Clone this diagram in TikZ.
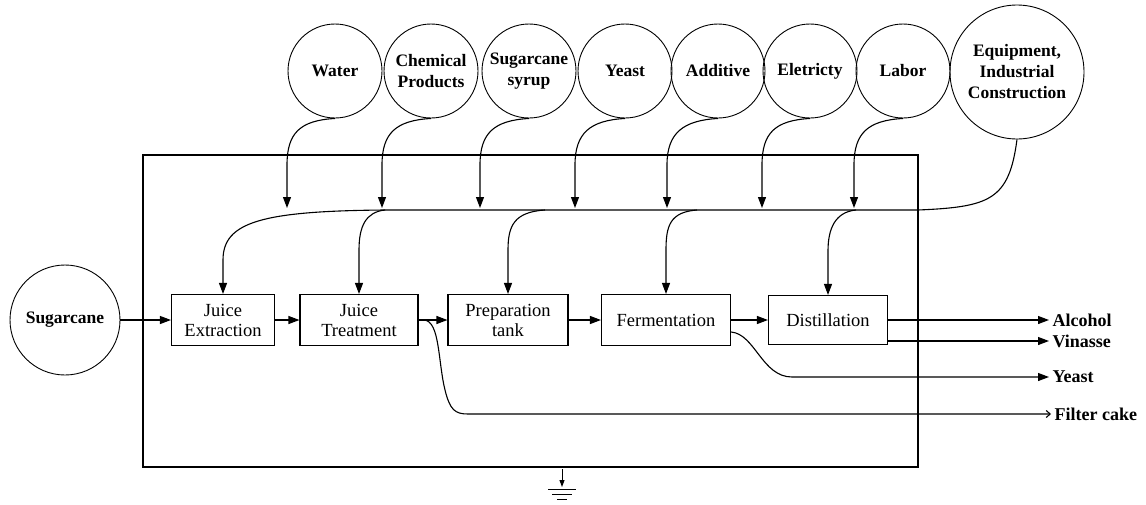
\documentclass[tikz,border=0pt]{standalone}
\usepackage{fontspec}
\setmainfont{Liberation Serif}
\usetikzlibrary{arrows.meta,calc}
\tikzset{
  res/.style={draw, circle, line width=0.9pt, minimum size=94pt, inner sep=0pt, align=center,
    font=\fontsize{17.5}{21}\selectfont\bfseries},
  proc/.style={draw, rectangle, line width=1.1pt, minimum height=51pt, inner sep=0pt, align=center,
    font=\fontsize{18.5}{20}\selectfont},
  outl/.style={anchor=west, inner sep=3pt, font=\fontsize{18}{20}\selectfont\bfseries},
  arr/.style={-{Triangle[length=11pt,width=8pt]}},
  fcarr/.style={-{Straight Barb[length=4pt,width=7pt]}},
  garr/.style={-{Triangle[length=7pt,width=5pt]}}
}
\begin{document}
\begin{tikzpicture}[x=1pt,y=-1pt,line width=1.1pt]
\useasboundingbox (0,0) rectangle (1146,504);
% resources
\node[res] (water) at (335,71) {Water};
\node[res] (chem) at (431,71) {Chemical\\Products};
\node[res] (syrup) at (529,71) {Sugarcane\\syrup};
\node[res] (yeastin) at (625,71) {Yeast};
\node[res] (add) at (718,71) {Additive};
\node[res] (elec) at (810,71) {Eletricty};
\node[res] (labor) at (903,71) {Labor};
\node[res, minimum size=134pt] (equip) at (1017,72) {Equipment,\\Industrial\\Construction};
\node[res, minimum size=110pt] (cane) at (65,320) {Sugarcane};
% system boundary
\draw (143,155) rectangle (918,467);
% processes
\node[proc, minimum width=103pt] (je) at (223,320) {Juice\\Extraction};
\node[proc, minimum width=118pt] (jt) at (359,320) {Juice\\Treatment};
\node[proc, minimum width=120pt] (pt) at (508,320) {Preparation\\tank};
\node[proc, minimum width=129pt] (fe) at (666,320) {Fermentation};
\node[proc, minimum width=119pt, minimum height=49pt] (di) at (828,320) {Distillation};
% chain
\draw[arr] (cane.east) -- (je.west);
\draw[arr] (je.east) -- (jt.west);
\draw[arr] (jt.east) -- (pt.west);
\draw[arr] (pt.east) -- (fe.west);
\draw[arr] (fe.east) -- (di.west);
% input drops onto the manifold
\coordinate (w1) at (287,165); \coordinate (w2) at (287,208);
\coordinate (c1) at (382,165); \coordinate (c2) at (382,208);
\coordinate (s1) at (480,165); \coordinate (s2) at (480,208);
\coordinate (y1) at (575,165); \coordinate (y2) at (575,208);
\coordinate (a1) at (667,165); \coordinate (a2) at (667,208);
\coordinate (e1) at (762,165); \coordinate (e2) at (762,208);
\coordinate (l1) at (854,165); \coordinate (l2) at (854,208);
\draw[arr] (water.south) .. controls +(-35,2) and +(0,-32) .. (w1) -- (w2);
\draw[arr] (chem.south) .. controls +(-35,2) and +(0,-32) .. (c1) -- (c2);
\draw[arr] (syrup.south) .. controls +(-35,2) and +(0,-32) .. (s1) -- (s2);
\draw[arr] (yeastin.south) .. controls +(-35,2) and +(0,-32) .. (y1) -- (y2);
\draw[arr] (add.south) .. controls +(-35,2) and +(0,-32) .. (a1) -- (a2);
\draw[arr] (elec.south) .. controls +(-35,2) and +(0,-32) .. (e1) -- (e2);
\draw[arr] (labor.south) .. controls +(-35,2) and +(0,-32) .. (l1) -- (l2);
% manifold
\coordinate (mR) at (918,210);
\coordinate (mL) at (385,210);
\coordinate (b2) at (545,210);
\coordinate (b3) at (697,210);
\coordinate (b4) at (856,210);
\draw (equip.south) .. controls (1009,200) and (990,207) .. (mR) -- (mL);
\draw[arr] (mL) .. controls (262,211) and ($(je.north)+(0,-72)$) .. ($(je.north)+(0,-34)$) -- (je.north);
\draw[arr] (mL) .. controls (366,212) and ($(jt.north)+(0,-68)$) .. ($(jt.north)+(0,-44)$) -- (jt.north);
\draw[arr] (b2) .. controls (514,212) and ($(pt.north)+(0,-68)$) .. ($(pt.north)+(0,-44)$) -- (pt.north);
\draw[arr] (b3) .. controls (670,212) and ($(fe.north)+(0,-68)$) .. ($(fe.north)+(0,-44)$) -- (fe.north);
\draw[arr] (b4) .. controls (835,212) and ($(di.north)+(0,-66)$) .. ($(di.north)+(0,-44)$) -- (di.north);
% outputs
\node[outl] (alc) at (1049,320) {Alcohol};
\node[outl] (vin) at (1049,341) {Vinasse};
\node[outl] (yout) at (1049,377) {Yeast};
\node[outl] (fc) at (1051,414) {Filter cake};
\draw[arr] (di.east) -- (alc.west);
\draw[arr] (di.east |- vin.west) -- (vin.west);
\coordinate (yk) at (792,377);
\draw[arr] ($(fe.east)+(0,12)$) .. controls +(24,2) and +(-30,0) .. (yk) -- (yout.west);
\coordinate (fk1) at (424,320);
\coordinate (fk2) at (445,390);
\coordinate (fk3) at (468,414);
\draw[fcarr] (jt.east) -- (fk1) .. controls (440,321) and (438,362) .. (fk2) .. controls (450,410) and (455,414) .. (fk3) -- (fc.west);
% ground
\coordinate (g0) at (562,469);
\coordinate (g) at (562,487);
\draw[garr, line width=1pt] (g0) -- (g);
\draw[line width=1pt] (548,489) -- (576,489) (552,494) -- (572,494) (557,499) -- (567,499);
\end{tikzpicture}
\end{document}
